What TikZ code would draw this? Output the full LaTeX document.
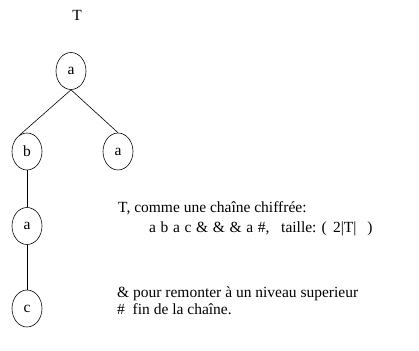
\documentclass[tikz,border=0pt]{standalone}
\usepackage{fontspec}
\setmainfont{Liberation Serif}
\usetikzlibrary{shapes.geometric}
\begin{document}
\begin{tikzpicture}[x=1pt,y=-1pt,
  vtx/.style={draw,ellipse,minimum width=30pt,minimum height=37pt,inner sep=0pt,line width=0.6pt,font=\fontsize{15.5}{18}\selectfont},
  txt/.style={anchor=base west,inner sep=0pt,font=\fontsize{15.5}{18}\selectfont},
  edge/.style={line width=0.6pt}]
\useasboundingbox (0,0) rectangle (419,350);
\node[anchor=base,inner sep=0pt,font=\fontsize{15.5}{18}\selectfont] (t) at (77,21) {T};
\node[vtx] (r) at (71,71) {a};
\node[vtx] (b) at (27,151.5) {b};
\node[vtx] (a2) at (118,151.5) {a};
\node[vtx] (a3) at (27,226) {a};
\node[vtx] (c) at (27,308.5) {c};
\draw[edge] (r.south) -- (b.113);
\draw[edge] (r.south) -- (a2.north);
\draw[edge] (b.south) -- (a3.north);
\draw[edge] (a3.south) -- (c.north);
\node[txt] (l1) at (118,212.5) {T, comme une chaîne chiffrée:};
\node[txt] (l2) at (149,232.5) {a\hspace{0.3em}b\hspace{0.3em}a\hspace{0.3em}c\hspace{0.3em}\&\hspace{0.3em}\&\hspace{0.3em}\&\hspace{0.3em}a\hspace{0.3em}\#,};
\node[txt] (l2b) at (281,232.5) {taille: (\hspace{0.4em}2|T|\hspace{0.7em})};
\node[txt] (l3) at (117,297.5) {\& pour remonter à un niveau superieur};
\node[txt] (l4) at (117,314.5) {\#\hspace{0.5em}fin de la chaîne.};
\end{tikzpicture}
\end{document}
